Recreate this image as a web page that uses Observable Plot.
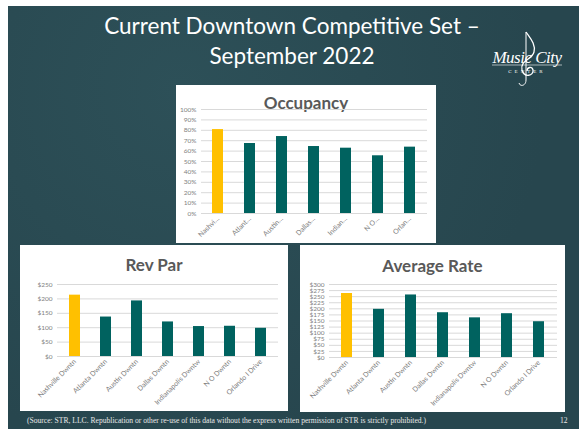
<!DOCTYPE html>
<html><head><meta charset="utf-8">
<script src="https://cdn.jsdelivr.net/npm/d3@7"></script>
<script src="https://cdn.jsdelivr.net/npm/@observablehq/plot@0.6"></script>
<style>
html,body{margin:0;padding:0;background:#fff;width:584px;height:429px;overflow:hidden;}
#slide{position:absolute;left:8px;top:6px;width:571px;height:423px;background:#28484f;
 background-image:radial-gradient(circle at 30% 20%, #2d5058 0%, #27464e 70%);}
.title{position:absolute;left:0;width:584px;text-align:center;color:#fff;font-family:Lato,sans-serif;font-size:22.5px;}
.panel{position:absolute;background:#fff;}
.ptitle{position:absolute;left:0;width:100%;text-align:center;font-family:Lato,sans-serif;font-weight:bold;font-size:17px;color:#595959;}
.panel svg{position:absolute;left:0;top:0;}
#foot{position:absolute;left:27px;top:416px;font-family:"Liberation Serif",serif;font-size:7.6px;color:#e8e8e8;}
#page{position:absolute;left:560px;top:416px;font-family:"Liberation Serif",serif;font-size:7.6px;color:#e8e8e8;}
#logo{position:absolute;left:486px;top:30px;width:82px;height:60px;text-align:center;color:#fff;font-family:"Liberation Serif",serif;}
#logo .t{position:absolute;left:0;width:82px;}
</style></head>
<body>
<div id="slide"></div>
<div class="title" style="top:12px;">Current Downtown Competitive Set –</div>
<div class="title" style="top:42px;">September 2022</div>
<div id="logo">
<svg width="82" height="60" style="position:absolute;left:0;top:0" fill="none" stroke="#fff">
<path d="M40 2 C44 8,50 14,48 22 C46 30,34 30,36 40 C38 48,48 46,47 40 C46 36,41 37,41 41" stroke-width="1.3"/>
<path d="M40 2 L40 50 C40 56,34 57,33 53" stroke-width="1"/>
<line x1="6" y1="35" x2="76" y2="35" stroke-width="0.6"/>
</svg>
<div class="t" style="top:18px;font-style:italic;font-size:17px;letter-spacing:-0.5px;">Music City</div>
<div class="t" style="top:39px;font-size:5px;letter-spacing:3px;">CENTER</div>
</div>
<div class="panel" id="occ" style="left:176px;top:85px;width:260px;height:158px;"><div class="ptitle" style="top:7px;">Occupancy</div></div>
<div class="panel" id="rev" style="left:20px;top:245px;width:268px;height:166px;"><div class="ptitle" style="top:9px;">Rev Par</div></div>
<div class="panel" id="adr" style="left:300px;top:245px;width:265px;height:167px;"><div class="ptitle" style="top:10px;">Average Rate</div></div>
<div id="foot">(Source: STR, LLC. Republication or other re-use of this data without the express written permission of STR is strictly prohibited.)</div>
<div id="page">12</div>
<script>
const cities = ["Nashville Dwntn","Atlanta Dwntn","Austin Dwntn","Dallas Dwntn","Indianapolis Dwntw","N O Dwntn","Orlando I Drive"];
const occLabels = ["Nashvi…","Atlant…","Austin…","Dallas…","Indian…","N O…","Orlan…"];
const occupancy = [80.7,67.3,74.0,64.4,62.8,55.5,63.8];
const revpar = [213,137,193,120,104,105,98];
const adr = [263,198,257,184,163,180,147];
const highlightIndex = 0;
const occTicks = [0,10,20,30,40,50,60,70,80,90,100];
const revTicks = [0,50,100,150,200,250];
const adrTicks = [0,25,50,75,100,125,150,175,200,225,250,275,300];

function chart(el, labels, values, ticks, fmt, w, h, m) {
  const data = labels.map((l,i)=>({label:l, value:values[i], fill: i===highlightIndex ? "#FFC000" : "#00625F"}));
  const svg = Plot.plot({
    width:w, height:h, marginTop:m[0], marginRight:m[1], marginBottom:m[2], marginLeft:m[3],
    style:{fontFamily:"Lato, sans-serif", color:"#808080", background:"transparent"},
    x:{domain:labels, paddingInner:0.645, paddingOuter:0.3225, label:null},
    y:{domain:[0, ticks[ticks.length-1]], label:null},
    marks:[
      Plot.ruleY(ticks, {stroke:"#d9d9d9", strokeWidth:1}),
      Plot.barY(data, {x:"label", y:"value", fill:"fill"}),
      Plot.axisY({ticks, tickFormat:fmt, tickSize:0, tickPadding:5, fontSize:6.5, label:null, fill:"#808080"}),
      Plot.axisX({tickRotate:-45, tickSize:0, tickPadding:4, fontSize:7, label:null, fill:"#808080"})
    ]
  });
  document.getElementById(el).appendChild(svg);
}
chart("occ", occLabels, occupancy, occTicks, d=>d+"%", 260, 158, [24,9,30,25]);
chart("rev", cities, revpar, revTicks, d=>"$"+d, 268, 166, [39,10,55,37]);
chart("adr", cities, adr, adrTicks, d=>"$"+d, 265, 167, [39,8,55,29]);
</script>
</body></html>
